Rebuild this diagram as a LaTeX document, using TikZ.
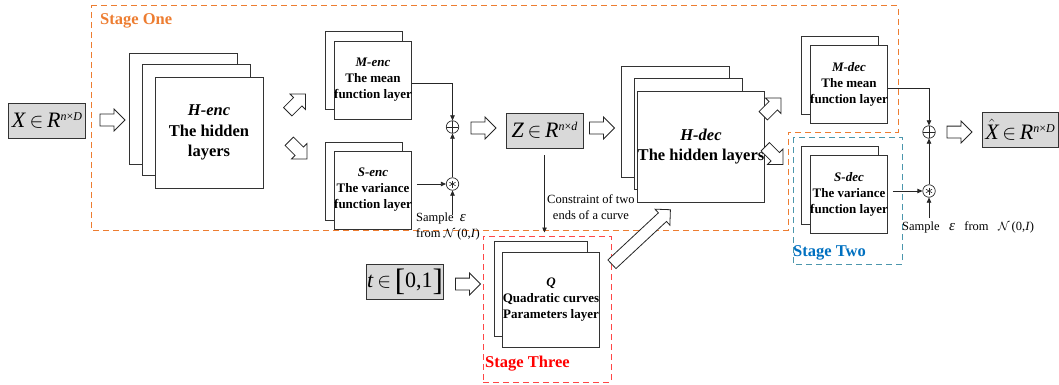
\documentclass[tikz,border=0pt]{standalone}
\usepackage{fontspec}
\setmainfont{Liberation Serif}
\usepackage{xcolor}
\usepackage{tikz}
\usetikzlibrary{positioning,arrows.meta,shapes.arrows,calc}

\definecolor{oneorange}{RGB}{237,125,49}
\definecolor{twoblue}{RGB}{0,112,192}
\definecolor{twoframe}{RGB}{75,150,172}
\definecolor{threered}{RGB}{255,0,0}
\definecolor{threeframe}{RGB}{255,70,70}

% superscript of the variable boxes
\newcommand{\dimsup}[1]{\raisebox{7pt}{\fontsize{12}{12}\selectfont #1}}
% noise symbol
\newcommand{\noiseeps}{{\fontsize{15}{15}\selectfont\textit{ε}}}
% tall bracket
\newcommand{\tallbr}[1]{\raisebox{-3pt}{\fontsize{31}{31}\selectfont #1}}

\tikzset{
  layer/.style={draw=black!80, line width=0.9pt, fill=white, inner sep=0pt, outer sep=0pt, align=center, font=\bfseries\fontsize{13}{16}\selectfont},
  biglayer/.style={layer, minimum width=108pt, minimum height=111pt, font=\bfseries\fontsize{16.5}{20.5}\selectfont},
  smalllayer/.style={layer, minimum width=77pt, minimum height=78pt},
  varbox/.style={draw=black!80, line width=0.9pt, fill=gray!30, minimum width=77pt, minimum height=35pt, inner sep=0pt, font=\fontsize{22}{24}\selectfont},
  hollow/.style={draw=black!85, line width=0.8pt, fill=white, single arrow, single arrow head extend=5pt, inner xsep=0pt, inner ysep=5.5pt, minimum height=25pt},
  conn/.style={draw=black!85, line width=0.7pt, -{Triangle[length=5pt,width=4.5pt]}},
  op/.style={draw=black!85, line width=0.7pt, circle, minimum size=12.5pt, inner sep=0pt},
  oplusop/.style={op, path picture={
      \draw[line width=0.6pt] (path picture bounding box.north) -- (path picture bounding box.south)
        (path picture bounding box.west) -- (path picture bounding box.east);}},
  astop/.style={op, path picture={
      \foreach \a in {30,90,150} \draw[line width=0.6pt] ($(path picture bounding box.center)+(\a:3.5pt)$) -- ($(path picture bounding box.center)+(\a+180:3.5pt)$);}},
  note/.style={font=\fontsize{12.5}{15.5}\selectfont, inner sep=0pt},
  stagelbl/.style={font=\bfseries\fontsize{16.5}{19}\selectfont, inner sep=0pt, anchor=west},
  frame/.style={dashed, dash pattern=on 6pt off 4pt, line width=1pt}
}

\begin{document}
\begin{tikzpicture}[x=1pt, y=-1pt]
  \useasboundingbox (0,0) rectangle (1059,385);

  % stage frames
  \draw[frame, draw=oneorange] (91,6) -- (898,6) -- (898,132) -- (788,132) -- (788,230) -- (91,230) -- cycle;
  \node[stagelbl, text=oneorange] (s1lbl) at (100,21) {Stage One};
  \draw[frame, draw=twoframe] (793,137) rectangle (902,264);
  \node[stagelbl, text=twoblue] (s2lbl) at (793,253) {Stage Two};
  \node[frame, draw=threeframe, minimum width=128pt, minimum height=146pt, inner sep=0pt] (s3) at (547,309) {};
  \node[stagelbl, text=threered] (s3lbl) at (485,364) {Stage Three};

  % input
  \node[varbox] (xin) at (47,120.5) {\textit{X}\,$\in$\,\textit{R}\dimsup{\textit{n}×\textit{D}}};
  \node[hollow] (a1) at (109.5,120) {};

  % encoder hidden layers
  \node[biglayer] (henc2) at (183,108.5) {};
  \node[biglayer] (henc1) at ([shift={(13,11.5)}]henc2.center) {};
  \node[biglayer] (henc) at ([shift={(13,12.5)}]henc1.center) {\textit{H-enc}\\The hidden\\layers};
  \node[hollow, rotate=45] (a2) at (294.5,105) {};
  \node[hollow, rotate=-45] (a3) at (296,148) {};

  % mean / variance encoder
  \node[smalllayer] (menc1) at (364,70.5) {};
  \node[smalllayer] (menc) at ([shift={(9,9.5)}]menc1.center) {\textit{M-enc}\\The mean\\function layer};
  \node[smalllayer] (senc1) at (364,181) {};
  \node[smalllayer] (senc) at ([shift={(9,9)}]senc1.center) {\textit{S-enc}\\The variance\\function layer};

  \node[oplusop] (add1) at (452.5,127) {};
  \node[astop] (mul1) at (452.5,184) {};
  \coordinate (eps1) at (452.5,215);
  \draw[conn] ([yshift=-3pt]menc.east) -| (add1);
  \draw[conn] ($(senc.east |- mul1)+(5,0)$) -- (mul1);
  \draw[conn] (mul1) -- (add1);
  \draw[conn] (eps1) -- (mul1);
  \node[note, anchor=north west, align=left] (samp1) at (416,213) {Sample~ \noiseeps\\from $\mathcal{N}$\,(0,\textit{I})};

  \node[hollow] (a4) at (480.5,128) {};
  \node[varbox] (z) at (544.5,130.5) {\textit{Z}\,$\in$\,\textit{R}\dimsup{\textit{n}×\textit{d}}};
  \node[hollow] (a5) at (599,128) {};

  % constraint
  \draw[conn] ([yshift=-7pt]z.south) -- ([yshift=3pt]z.south |- s3.north);
  \node[note, align=center, anchor=west] (cons) at (547,207) {Constraint of two\\ends of a curve};

  % decoder hidden layers
  \node[biglayer] (hdec2) at (675,122) {};
  \node[biglayer] (hdec1) at ([shift={(13,11.5)}]hdec2.center) {};
  \node[biglayer] (hdec) at ([shift={(13,13)}]hdec1.center) {\textit{H-dec}\\The hidden layers};
  \node[hollow, rotate=45] (a6) at (770,109) {};
  \node[hollow, rotate=-45] (a7) at (772,153.5) {};

  % mean / variance decoder
  \node[smalllayer] (mdec1) at (839.5,75.5) {};
  \node[smalllayer] (mdec) at ([shift={(9.5,9)}]mdec1.center) {\textit{M-dec}\\The mean\\function layer};
  \node[smalllayer] (sdec1) at (839.5,185.5) {};
  \node[smalllayer] (sdec) at ([shift={(9.5,9)}]sdec1.center) {\textit{S-dec}\\The variance\\function layer};

  \node[oplusop] (add2) at (929,132) {};
  \node[astop] (mul2) at (929,191) {};
  \coordinate (eps2) at (929,218);
  \draw[conn] ([yshift=-3.5pt]mdec.east) -| (add2);
  \draw[conn] ($(sdec.east |- mul2)+(5,0)$) -- (mul2);
  \draw[conn] (mul2) -- (add2);
  \draw[conn] (eps2) -- (mul2);
  \node[note, anchor=west] (samp2) at (902,227) {Sample~~ \noiseeps~~ from~~ $\mathcal{N}$\,(0,\textit{I})};

  \node[hollow] (a8) at (956.5,132) {};
  \node[varbox, minimum width=76pt] (xhat) at (1020,129.5) {$\hat{\textit{X}}$\,$\in$\,\textit{R}\dimsup{\textit{n}×\textit{D}}};

  % quadratic curve layer
  \node[varbox] (tin) at (405,281.5) {\textit{t}\,$\in$\,\tallbr{[}0,1\tallbr{]}};
  \node[hollow] (a9) at (465,284) {};
  \node[layer, minimum width=93pt, minimum height=95pt] (q1) at (540.5,288.5) {};
  \node[layer, minimum width=94pt, minimum height=95pt] (q) at ([shift={(10.5,11)}]q1.center) {\textit{Q}\\Quadratic curves\\Parameters layer};
  \node[hollow, rotate=43, minimum height=80pt] (a10) at (639,239) {};
\end{tikzpicture}
\end{document}
